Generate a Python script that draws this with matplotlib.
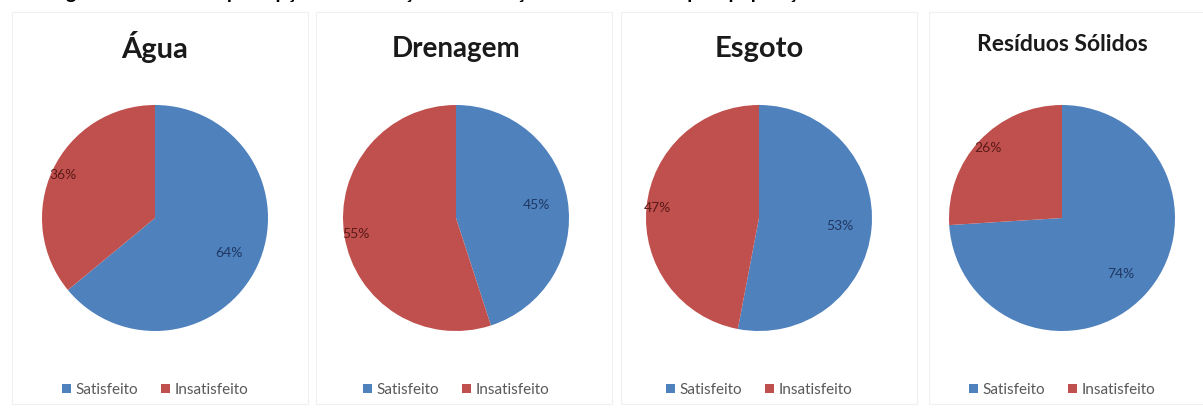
import matplotlib.pyplot as plt
from matplotlib.patches import Rectangle
import numpy as np

# Data
services = ["Água", "Drenagem", "Esgoto", "Resíduos Sólidos"]
categories = ["Satisfeito", "Insatisfeito"]
satisfeito = [64, 45, 53, 74]
insatisfeito = [36, 55, 47, 26]

colors = ["#4F81BD", "#C0504D"]
label_colors = ["#1F3864", "#5A1A18"]
label_dist = [0.72, 0.90]

plt.rcParams['font.family'] = ['Lato', 'DejaVu Sans']

W, H = 1203, 412
fig = plt.figure(figsize=(W / 100, H / 100), dpi=100)

# Title of the figure, cut off at the top edge in the reference
fig.text(50 / W, 1 + 1 / H, "Figura 20 – Grau de percepção da satisfação dos serviços de saneamento pela população",
         fontsize=14, fontweight='bold', ha='left', va='baseline', color='black')

# Panel frames (Excel chart areas)
panel_x = [12, 316, 621, 929]
panel_w = 296
for px in panel_x:
    fig.patches.append(Rectangle((px / W, 8 / H), panel_w / W, (H - 20) / H,
                                 transform=fig.transFigure, fill=False,
                                 edgecolor='#F0F0F0', linewidth=0.8))

centers = [155, 456, 759, 1062]
cy = 218
r = 113
title_sizes = [21, 20, 21, 16.5]
title_base = [58, 57, 57, 51]

for i, name in enumerate(services):
    cx = centers[i]
    ax = fig.add_axes([(cx - r) / W, 1 - (cy + r) / H, 2 * r / W, 2 * r / H])
    vals = [satisfeito[i], insatisfeito[i]]
    wedges, _ = ax.pie(vals, colors=colors, startangle=90, counterclock=False,
                       radius=1, wedgeprops=dict(linewidth=0))
    for j, w in enumerate(wedges):
        ang = np.deg2rad((w.theta1 + w.theta2) / 2)
        d = label_dist[j]
        ax.text(d * np.cos(ang), d * np.sin(ang), f"{vals[j]}%",
                ha='center', va='center', fontsize=10, color=label_colors[j])
    ax.set_xlim(-1, 1)
    ax.set_ylim(-1, 1)
    ax.axis('off')

    fig.text(cx / W, 1 - title_base[i] / H, name, ha='center', va='baseline',
             fontsize=title_sizes[i], fontweight='bold', color='#1A1A1A')

    leg = ax.legend(wedges, categories, loc='center', ncol=2, frameon=False,
                    bbox_to_anchor=(cx / W, 1 - 390 / H), bbox_transform=fig.transFigure,
                    fontsize=11, handlelength=0.6, handleheight=0.6,
                    handletextpad=0.3, columnspacing=1.5)
    for t in leg.get_texts():
        t.set_color('#595959')

fig.savefig("out.png", dpi=100, facecolor='white')
